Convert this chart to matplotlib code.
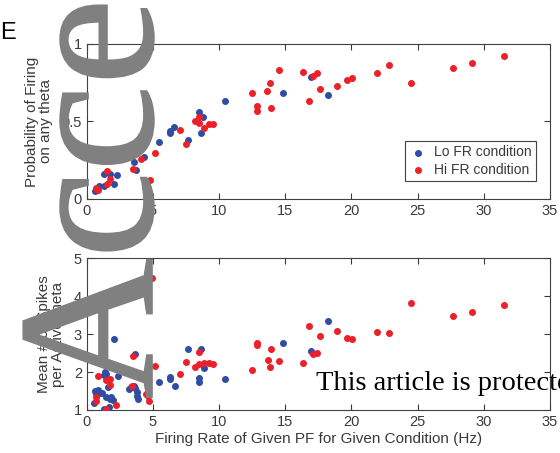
import matplotlib
matplotlib.use("Agg")
import matplotlib.pyplot as plt
from matplotlib.textpath import TextPath
from matplotlib.font_manager import FontProperties
from matplotlib.patches import PathPatch
from matplotlib.transforms import Affine2D, IdentityTransform

# top panel: probability of firing on any theta
lo_x_top = [10.43, 8.49, 8.79, 6.57, 6.27, 6.32, 8.62, 7.66, 5.44, 4.31, 3.58, 3.70,
            1.28, 1.74, 2.29, 2.02, 1.28, 0.93, 0.60, 14.79, 16.98, 18.24]
lo_y_top = [0.632, 0.563, 0.530, 0.463, 0.440, 0.426, 0.422, 0.383, 0.368, 0.268, 0.240, 0.188,
            0.158, 0.162, 0.154, 0.097, 0.080, 0.084, 0.052, 0.684, 0.784, 0.673]
hi_x_top = [4.11, 3.50, 5.16, 4.76, 7.03, 7.48, 8.14, 8.49, 8.49, 8.87, 9.20, 9.50,
            1.53, 1.79, 1.53, 0.73, 0.86, 12.45, 12.83, 12.90, 13.63, 13.88, 13.91, 14.55,
            16.35, 17.10, 17.36, 16.78, 17.64, 18.90, 19.63, 20.03, 21.90, 22.83, 24.51,
            27.69, 29.12, 31.54]
hi_y_top = [0.258, 0.195, 0.297, 0.119, 0.446, 0.353, 0.504, 0.530, 0.491, 0.456, 0.485, 0.485,
            0.177, 0.128, 0.099, 0.069, 0.058, 0.684, 0.597, 0.565, 0.695, 0.749, 0.589, 0.831,
            0.820, 0.794, 0.812, 0.634, 0.712, 0.727, 0.768, 0.777, 0.814, 0.864, 0.749,
            0.842, 0.877, 0.922]

# bottom panel: mean number of spikes per active theta
lo_x_bot = [2.04, 3.68, 7.66, 8.62, 8.82, 8.49, 8.49, 10.43, 5.44, 6.32, 6.27, 6.63,
            1.36, 1.44, 1.31, 2.34, 1.59, 3.33, 3.17, 3.58, 3.68, 3.80, 3.83, 3.85,
            0.60, 0.81, 0.66, 0.93, 1.18, 1.48, 1.74, 1.86, 1.99, 0.53, 1.28, 1.69,
            14.79, 18.24, 16.98]
lo_y_bot = [2.86, 2.47, 2.60, 2.60, 2.10, 1.83, 1.75, 1.82, 1.74, 1.86, 1.81, 1.64,
            2.00, 1.95, 1.93, 1.89, 1.60, 1.60, 1.54, 1.63, 1.57, 1.48, 1.37, 1.28,
            1.51, 1.53, 1.42, 1.44, 1.44, 1.35, 1.28, 1.33, 1.26, 1.18, 1.02, 1.07,
            2.77, 3.35, 2.55]
hi_x_bot = [4.89, 3.50, 8.47, 7.48, 5.19, 8.14, 8.47, 8.85, 9.20, 9.50, 7.05,
            12.50, 12.90, 12.83, 13.90, 13.66, 13.88, 14.55,
            0.86, 1.48, 1.79, 1.79, 3.40, 4.46, 4.59, 4.69, 2.24, 0.73, 0.66, 1.48,
            16.78, 17.10, 17.36, 16.35, 17.64, 18.90, 19.63, 20.03, 21.90, 22.83, 24.51,
            27.69, 29.12, 31.54]
hi_y_bot = [4.48, 2.42, 2.52, 2.26, 2.16, 2.12, 2.21, 2.25, 2.25, 2.20, 1.96,
            2.06, 2.77, 2.70, 2.61, 2.31, 2.14, 2.29,
            1.90, 1.79, 1.82, 1.67, 1.63, 1.42, 1.38, 1.24, 1.12, 1.35, 1.24, 1.02,
            3.21, 2.47, 2.51, 2.23, 2.95, 3.08, 2.89, 2.87, 3.06, 3.02, 3.81,
            3.48, 3.58, 3.76]

xticks = [0, 5, 10, 15, 20, 25, 30, 35]

plt.rcParams['font.family'] = ['Liberation Sans', 'DejaVu Sans']
blue = '#2e4da3'
red = '#ec2028'
txt = '#3a3a3a'

fig = plt.figure(figsize=(5.6, 4.53), dpi=100)
ax1 = fig.add_axes([0.155, 0.561, 0.827, 0.342])
ax2 = fig.add_axes([0.155, 0.095, 0.827, 0.335])

for ax in (ax1, ax2):
    ax.set_xlim(0, 35)
    ax.set_xticks(xticks)
    ax.tick_params(direction='in', top=True, right=True, labelsize=10.5,
                   colors=txt, length=4, width=0.8)
    for s in ax.spines.values():
        s.set_color('#404040')
        s.set_linewidth(0.8)

ax1.scatter(lo_x_top, lo_y_top, s=16, color=blue, label='Lo FR condition', zorder=3)
ax1.scatter(hi_x_top, hi_y_top, s=16, color=red, label='Hi FR condition', zorder=3)
ax1.set_ylim(0, 1)
ax1.set_yticks([0, 0.5, 1])
ax1.set_yticklabels(['0', '0.5', '1'])
ax1.set_ylabel('Probability of Firing\non any theta', fontsize=11, color=txt,
               linespacing=1.0, labelpad=6)
leg = ax1.legend(loc='lower right', fontsize=10, handletextpad=0.6, borderpad=0.3,
                 labelspacing=0.25, fancybox=False, edgecolor='#404040',
                 framealpha=1, handlelength=1.2, bbox_to_anchor=(0.985, 0.07))
leg.get_frame().set_linewidth(0.8)
for t in leg.get_texts():
    t.set_color(txt)

ax2.scatter(lo_x_bot, lo_y_bot, s=16, color=blue, zorder=3)
ax2.scatter(hi_x_bot, hi_y_bot, s=16, color=red, zorder=3)
ax2.set_ylim(1, 5)
ax2.set_yticks([1, 2, 3, 4, 5])
ax2.set_ylabel('Mean # of Spikes\nper Active theta', fontsize=11, color=txt,
               linespacing=1.0, labelpad=6)
ax2.set_xlabel('Firing Rate of Given PF for Given Condition (Hz)', fontsize=11,
               color=txt, labelpad=2)

fig.text(0.0, 0.915, 'E', fontsize=17, color='black')

# journal watermark, rotated to read upwards along the left edge
wm = TextPath((0, 0), 'Accepted Article', size=1,
              prop=FontProperties(family='Liberation Serif'))
wm_tr = Affine2D().scale(195, 195).rotate_deg(90).translate(152, 54)
wm_patch = PathPatch(wm_tr.transform_path(wm), facecolor='#808080', edgecolor='#808080',
                     linewidth=1.2, transform=IdentityTransform(), zorder=10)
fig.add_artist(wm_patch)

fig.text(0.565, 0.14, 'This article is protected by copyright. All rights reserved.',
         fontsize=20.5, family='Liberation Serif', color='black', zorder=11)

fig.savefig('out.png', dpi=100)
